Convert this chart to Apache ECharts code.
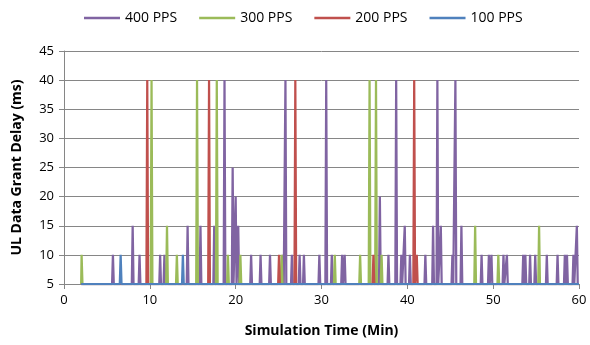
<!DOCTYPE html>
<html>
<head>
<meta charset="utf-8">
<script src="https://cdn.jsdelivr.net/npm/echarts@6/dist/echarts.min.js"></script>
<style>
html, body { margin: 0; padding: 0; background: #fff; }
#chart { width: 590px; height: 345px; }
</style>
</head>
<body>
<div id="chart"></div>
<script>
// series names, colours kept in option below
var seriesNames = ['400 PPS', '300 PPS', '200 PPS', '100 PPS'];

// start / end of the run (min) and the idle delay (ms)
var runStart = 2;
var runEnd = 60;
var baseDelay = 5;

// spikes: time (min) and delay (ms)
var t400 = [5.7, 8.0, 8.8, 11.2, 11.7, 14.4, 15.9, 17.5, 18.7, 19.65, 20.0, 20.3,
            21.8, 22.9, 24.0, 25.5, 25.8, 26.55, 27.45, 27.95, 29.75, 30.55, 31.2,
            32.4, 32.7, 36.8, 37.8, 38.7, 39.3, 39.7, 40.3, 42.1, 43.0, 43.5, 43.9,
            45.25, 45.6, 46.3, 48.65, 49.5, 49.8, 51.2, 51.6, 53.5, 53.75, 54.3,
            54.9, 56.25, 57.5, 58.35, 58.6, 59.35, 59.75];
var v400 = [10, 15, 10, 10, 10, 15, 15, 15, 40, 25, 20, 15,
            10, 10, 10, 10, 40, 10, 10, 10, 10, 40, 10,
            10, 10, 20, 10, 40, 10, 15, 10, 10, 15, 40, 15,
            10, 40, 15, 10, 10, 10, 10, 10, 10, 10, 10,
            10, 10, 10, 10, 10, 10, 15];

var t300 = [2.05, 10.2, 12.0, 13.15, 15.5, 17.8, 19.1, 20.55, 25.35, 31.55,
            34.5, 35.6, 36.35, 37.0, 47.9, 50.6, 55.35];
var v300 = [10, 40, 15, 10, 40, 40, 10, 10, 10, 10,
            10, 40, 40, 10, 15, 10, 15];

var t200 = [9.7, 16.9, 25.05, 26.95, 36.05, 40.8, 41.1];
var v200 = [40, 40, 10, 40, 10, 40, 10];

var t100 = [6.6, 13.85];
var v100 = [10, 10];

function buildLine(times, vals) {
  var half = 0.1;
  var data = [[runStart, baseDelay]];
  for (var i = 0; i < times.length; i++) {
    data.push([times[i] - half, baseDelay]);
    data.push([times[i], vals[i]]);
    data.push([times[i] + half, baseDelay]);
  }
  data.push([runEnd, baseDelay]);
  return data;
}

var chart = echarts.init(document.getElementById('chart'));
var fnt = 'Open Sans, Liberation Sans, sans-serif';
var axisGrey = '#868686';

var colors = ['#8064A2', '#9BBB59', '#C0504D', '#4F81BD'];
var allT = [t400, t300, t200, t100];
var allV = [v400, v300, v200, v100];
var series = [];
for (var s = 0; s < 4; s++) {
  series.push({
    name: seriesNames[s],
    type: 'line',
    data: buildLine(allT[s], allV[s]),
    symbol: 'none',
    animation: false,
    lineStyle: { color: colors[s], width: 2.25 },
    itemStyle: { color: colors[s] }
  });
}

var option = {
  animation: false,
  color: colors,
  textStyle: { fontFamily: fnt },
  legend: {
    data: seriesNames,
    top: 6,
    left: 79,
    icon: 'rect',
    itemWidth: 36,
    itemHeight: 2.5,
    itemGap: 22,
    textStyle: { fontSize: 14, color: '#000', fontFamily: fnt }
  },
  grid: {
    left: 64,
    right: 11,
    top: 51,
    bottom: 61,
    containLabel: false
  },
  xAxis: {
    type: 'value',
    min: 0,
    max: 60,
    interval: 10,
    name: 'Simulation Time (Min)',
    nameLocation: 'middle',
    nameGap: 40,
    nameTextStyle: { fontSize: 14, fontWeight: 'bold', color: '#000', fontFamily: fnt },
    axisLine: { show: true, lineStyle: { color: axisGrey, width: 1 } },
    axisTick: { show: true, inside: false, length: 5, lineStyle: { color: axisGrey } },
    axisLabel: { fontSize: 13, color: '#000', margin: 10 },
    splitLine: { show: false }
  },
  yAxis: {
    type: 'value',
    min: 5,
    max: 45,
    interval: 5,
    name: 'UL Data Grant Delay (ms)',
    nameLocation: 'middle',
    nameGap: 40,
    nameTextStyle: { fontSize: 14, fontWeight: 'bold', color: '#000', fontFamily: fnt },
    axisLine: { show: true, lineStyle: { color: axisGrey, width: 1 } },
    axisTick: { show: true, inside: false, length: 5, lineStyle: { color: axisGrey } },
    axisLabel: { fontSize: 13, color: '#000', margin: 10 },
    splitLine: { show: true, lineStyle: { color: axisGrey, width: 1 } }
  },
  series: series
};
chart.setOption(option);
</script>
</body>
</html>
